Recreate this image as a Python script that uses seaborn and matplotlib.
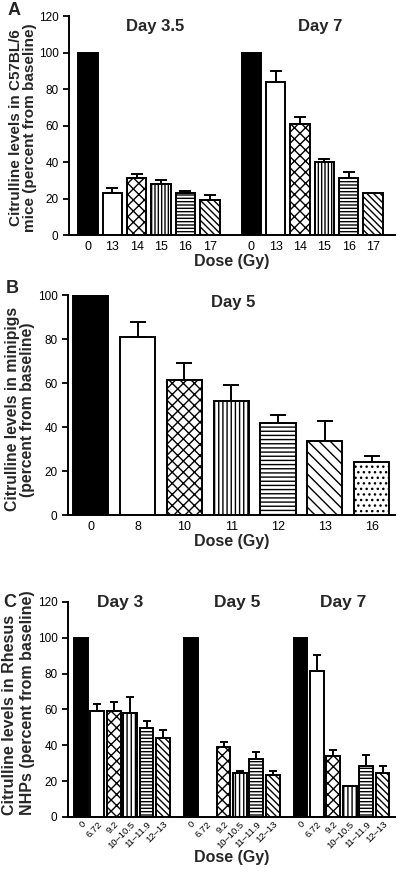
import numpy as np
import pandas as pd
import matplotlib
matplotlib.use("Agg")
import matplotlib.pyplot as plt
import seaborn as sns

# ---- data ----
# Panel A: C57BL/6 mice
a_doses = ["0", "13", "14", "15", "16", "17"]
a_day35 = [100, 23.0, 31.4, 27.7, 23.0, 19.0]
a_day35_err = [0, 3.0, 1.8, 2.4, 1.0, 3.0]
a_day7 = [100, 83.6, 61.0, 39.8, 31.4, 23.0]
a_day7_err = [0, 6.2, 3.4, 2.0, 2.9, 0]

# Panel B: minipigs, day 5
b_doses = ["0", "8", "10", "11", "12", "13", "16"]
b_day5 = [100, 81.0, 61.4, 51.8, 42.0, 33.6, 24.2]
b_day5_err = [0, 6.6, 7.7, 7.1, 3.6, 9.0, 2.6]

# Panel C: Rhesus NHPs
c_doses = ["0", "6.72", "9.2", "10\u201310.5", "11\u201311.9", "12\u201313"]
c_day3 = [100, 58.9, 59.2, 58.0, 49.7, 44.2]
c_day3_err = [0, 4.2, 4.8, 8.9, 4.0, 4.2]
c_day5 = [100, np.nan, 38.8, 24.7, 32.4, 23.6]
c_day5_err = [0, 0, 3.1, 0.9, 4.0, 2.0]
c_day7 = [100, 81.7, 34.2, 17.2, 28.3, 24.5]
c_day7_err = [0, 8.8, 3.3, 0.3, 6.3, 4.2]

sns.set_style("ticks")
plt.rcParams["font.family"] = ["Liberation Sans", "DejaVu Sans"]
plt.rcParams["hatch.color"] = "black"
plt.rcParams["hatch.linewidth"] = 1.0

GROUP_STEP = 6.7


def draw_panel(ax, groups, errs, doses, hatches, width, capsize):
    rows = []
    for g, (vals, ee) in enumerate(zip(groups, errs)):
        for i, (v, e) in enumerate(zip(vals, ee)):
            rows.append({"x": g * GROUP_STEP + i, "value": v, "err": e,
                         "slot": i, "dose": doses[i]})
    df = pd.DataFrame(rows)
    ticks = df[["x", "dose"]].copy()
    df = df.dropna(subset=["value"]).sort_values("x").reset_index(drop=True)

    sns.barplot(data=df, x="x", y="value", native_scale=True, color="white",
                edgecolor="black", linewidth=1.4, width=width, errorbar=None,
                saturation=1, ax=ax)
    for p, (_, r) in zip(ax.patches, df.iterrows()):
        if r.slot == 0:
            p.set_facecolor("black")
        else:
            p.set_facecolor("white")
            p.set_hatch(hatches[r.slot])
        p.set_edgecolor("black")

    e = df[df.err > 0]
    ax.errorbar(e.x, e.value, yerr=[np.zeros(len(e)), e.err], fmt="none",
                ecolor="black", elinewidth=1.4, capsize=capsize, capthick=1.4,
                zorder=3)

    ax.set_xticks(ticks.x)
    ax.set_xticklabels(ticks.dose)
    ax.set_xlabel("")
    ax.set_ylabel("")
    sns.despine(ax=ax)
    for s in ["left", "bottom"]:
        ax.spines[s].set_linewidth(1.4)
        ax.spines[s].set_color("black")
    ax.tick_params(axis="x", length=0, labelsize=9, pad=4, colors="black")
    ax.tick_params(axis="y", length=4, width=1.3, labelsize=8.5, colors="black")
    return ax


fig = plt.figure(figsize=(4, 8.75), dpi=100)

# ---------- A ----------
axA = fig.add_axes([0.1725, 0.7314, 0.815, 0.2503])
draw_panel(axA, [a_day35, a_day7], [a_day35_err, a_day7_err], a_doses,
           [None, None, "xxx", "|||||", "-----", "\\\\\\\\\\"], 0.8, 4)
axA.set_ylim(0, 120)
axA.set_yticks(range(0, 121, 20))
axA.set_xlim(-0.78, 12.6)
axA.set_xlabel("Dose (Gy)", fontsize=11.5, fontweight="bold")
axA.xaxis.set_label_coords(0.5, -0.085)
axA.set_ylabel("Citrulline levels in C57BL/6\nmice (percent from baseline)",
               fontsize=11, fontweight="bold", linespacing=1.0)
axA.yaxis.set_label_coords(-0.098, 0.49)
axA.text(0.264, 0.95, "Day 3.5", transform=axA.transAxes, ha="center",
         va="center", fontsize=12, fontweight="bold")
axA.text(0.77, 0.95, "Day 7", transform=axA.transAxes, ha="center",
         va="center", fontsize=12, fontweight="bold")

# ---------- B ----------
axB = fig.add_axes([0.17, 0.4114, 0.8175, 0.2514])
draw_panel(axB, [b_day5], [b_day5_err], b_doses,
           [None, None, "xxx", "||||", "----", "\\\\\\", "..."], 0.75, 6)
axB.set_ylim(0, 100)
axB.set_yticks(range(0, 101, 20))
axB.set_xlim(-0.485, 6.5)
axB.set_xlabel("Dose (Gy)", fontsize=11.5, fontweight="bold")
axB.xaxis.set_label_coords(0.5, -0.085)
axB.set_ylabel("Citrulline levels in minipigs\n(percent from baseline)",
               fontsize=11.3, fontweight="bold", linespacing=1.0)
axB.yaxis.set_label_coords(-0.1, 0.48)
axB.text(0.505, 0.968, "Day 5", transform=axB.transAxes, ha="center",
         va="center", fontsize=12, fontweight="bold")

# ---------- C ----------
axC = fig.add_axes([0.17, 0.0663, 0.8175, 0.2457])
draw_panel(axC, [c_day3, c_day5, c_day7], [c_day3_err, c_day5_err, c_day7_err],
           c_doses, [None, None, "xxx", "||||", "-----", "\\\\\\\\\\"], 0.84, 3)
axC.set_ylim(0, 120)
axC.set_yticks(range(0, 121, 20))
axC.set_xlim(-0.79, 19.16)
for lab in axC.get_xticklabels():
    lab.set_rotation(45)
    lab.set_ha("right")
    lab.set_va("top")
    lab.set_rotation_mode("anchor")
    lab.set_fontsize(6.8)
axC.tick_params(axis="x", pad=2)
axC.set_xlabel("Dose (Gy)", fontsize=11.5, fontweight="bold")
axC.xaxis.set_label_coords(0.5, -0.155)
# y label as two lines, both starting at the bottom (as in the original)
for xf, line in zip([-0.156, -0.101],
                    ["Citrulline levels in Rhesus", "NHPs (percent from baseline)"]):
    axC.text(xf, 0.008, line, transform=axC.transAxes, rotation=90,
             rotation_mode="anchor", ha="left", va="bottom",
             fontsize=11.5, fontweight="bold")
for xf, t in zip([0.159, 0.517, 0.841], ["Day 3", "Day 5", "Day 7"]):
    axC.text(xf, 1.0, t, transform=axC.transAxes, ha="center", va="center",
             fontsize=12.5, fontweight="bold")

# panel letters
fig.text(0.035, 0.988, "A", fontsize=13, fontweight="bold", ha="center", va="center")
fig.text(0.031, 0.670, "B", fontsize=13, fontweight="bold", ha="center", va="center")
fig.text(0.024, 0.311, "C", fontsize=13, fontweight="bold", ha="center", va="center")

fig.savefig("out.png", dpi=100)
